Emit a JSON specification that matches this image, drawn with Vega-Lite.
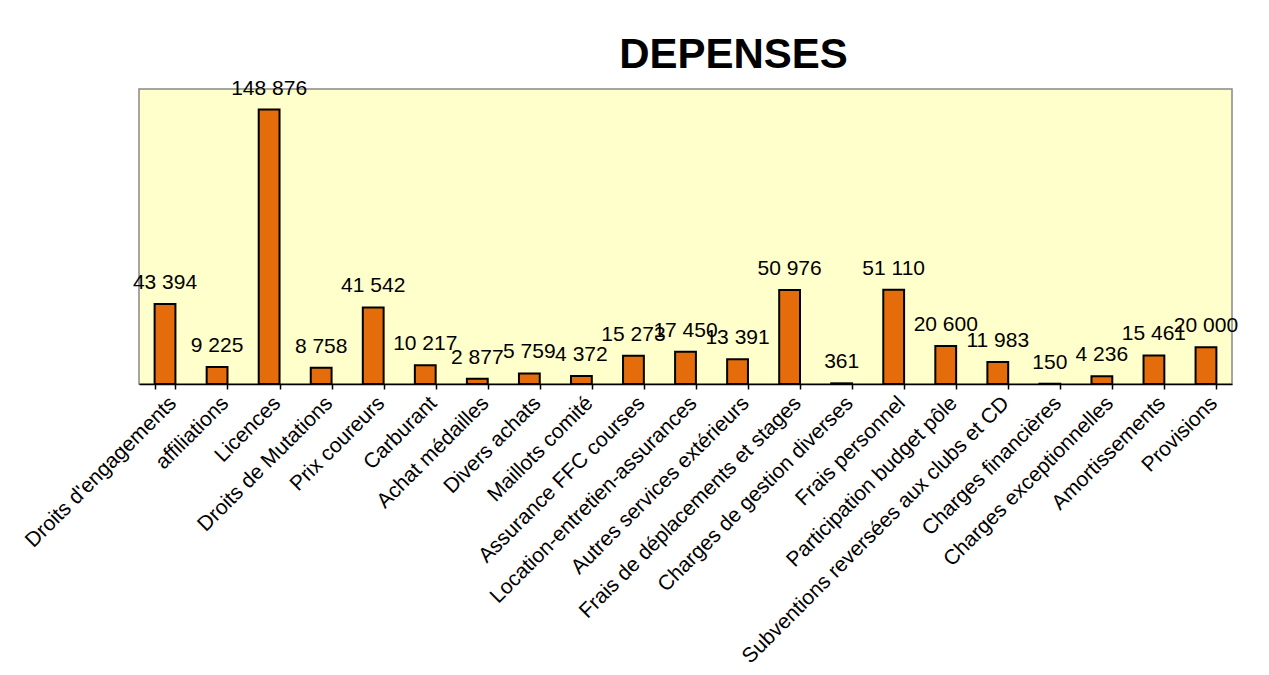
{
  "$schema": "https://vega.github.io/schema/vega-lite/v6.json",
  "width": 1093,
  "height": 295,
  "autosize": {"type": "none"},
  "padding": {"left": 139, "top": 89, "right": 36, "bottom": 291},
  "background": "white",
  "title": {
    "text": "DEPENSES",
    "font": "Liberation Sans",
    "fontSize": 42,
    "fontWeight": "bold",
    "color": "black",
    "frame": "group",
    "anchor": "middle",
    "dx": 48,
    "offset": -32,
    "baseline": "alphabetic"
  },
  "config": {
    "locale": {"number": {"decimal": ",", "thousands": " ", "grouping": [3], "currency": ["", " €"]}},
    "view": {"fill": "#FFFFCC", "stroke": "#888888", "strokeWidth": 1.5},
    "font": "Liberation Sans"
  },
  "data": {
    "values": [
      {"poste": "Droits d'engagements", "montant": 43394},
      {"poste": "affiliations", "montant": 9225},
      {"poste": "Licences", "montant": 148876},
      {"poste": "Droits de Mutations", "montant": 8758},
      {"poste": "Prix coureurs", "montant": 41542},
      {"poste": "Carburant", "montant": 10217},
      {"poste": "Achat médailles", "montant": 2877},
      {"poste": "Divers achats", "montant": 5759},
      {"poste": "Maillots comité", "montant": 4372},
      {"poste": "Assurance FFC courses", "montant": 15273},
      {"poste": "Location-entretien-assurances", "montant": 17450},
      {"poste": "Autres services extérieurs", "montant": 13391},
      {"poste": "Frais de déplacements et stages", "montant": 50976},
      {"poste": "Charges de gestion diverses", "montant": 361},
      {"poste": "Frais personnel", "montant": 51110},
      {"poste": "Participation budget pôle", "montant": 20600},
      {"poste": "Subventions reversées aux clubs et CD", "montant": 11983},
      {"poste": "Charges financières", "montant": 150},
      {"poste": "Charges exceptionnelles", "montant": 4236},
      {"poste": "Amortissements", "montant": 15461},
      {"poste": "Provisions", "montant": 20000}
    ]
  },
  "encoding": {
    "x": {
      "field": "poste",
      "type": "nominal",
      "sort": null,
      "scale": {"paddingInner": 0.6, "paddingOuter": 0.3},
      "axis": {
        "title": null,
        "labelAngle": -45,
        "labelFontSize": 21,
        "labelColor": "black",
        "labelFont": "Liberation Sans",
        "labelPadding": 3,
        "labelLimit": 0,
        "tickBand": "extent",
        "tickSize": 5,
        "tickColor": "black",
        "domainColor": "black",
        "domainWidth": 1.5,
        "tickWidth": 1.5
      }
    },
    "y": {
      "field": "montant",
      "type": "quantitative",
      "scale": {"domain": [0, 160000], "nice": false},
      "axis": null
    }
  },
  "layer": [
    {
      "mark": {"type": "bar", "color": "#E46C0A", "stroke": "black", "strokeWidth": 2}
    },
    {
      "mark": {"type": "text", "baseline": "alphabetic", "dy": -15, "fontSize": 21, "color": "black", "font": "Liberation Sans"},
      "encoding": {
        "text": {"field": "montant", "type": "quantitative", "format": ",d"}
      }
    }
  ]
}
